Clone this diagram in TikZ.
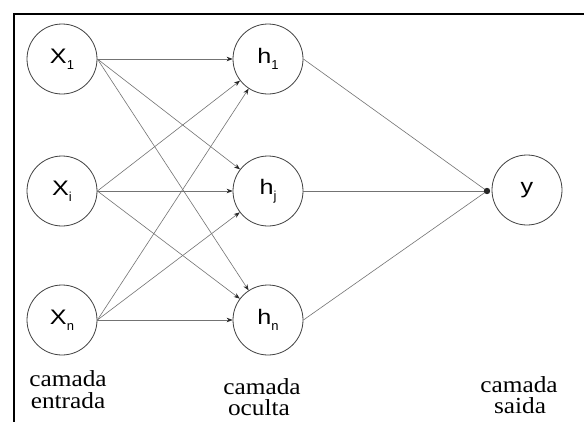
\documentclass[tikz,border=0pt]{standalone}
\usepackage{fontspec}
\setmainfont{Liberation Serif}
\newfontfamily\nodefont{Liberation Sans}
\usetikzlibrary{arrows.meta}
\newcommand{\lbl}[2]{\scalebox{1.2}[1]{#1}\raisebox{-0.28em}{\fontsize{13}{13}\selectfont #2}}
\begin{document}
\begin{tikzpicture}[x=1pt,y=-1pt,
  neuron/.style={circle,draw=black!75,line width=0.8pt,minimum size=70pt,inner sep=0pt,
    font=\nodefont\fontsize{21}{21}\selectfont},
  conn/.style={draw=black!55,line width=0.6pt,-{Stealth[length=6pt,width=4.5pt,black!85]}},
  outl/.style={draw=black!55,line width=0.6pt},
  layerlbl/.style={anchor=base,inner sep=0pt,font=\fontsize{23}{23}\selectfont}]
\useasboundingbox (0,0) rectangle (584,421);
\fill[white] (0,0) rectangle (584,421);
\draw[line width=2.6pt,line cap=rect] (584,14) -- (14,14) -- (14,421);
% input layer
\node[neuron] (x1) at (62,59) {\lbl{X}{1}};
\node[neuron] (xi) at (62,191) {\lbl{X}{i}};
\node[neuron] (xn) at (62,320) {\lbl{X}{n}};
% hidden layer
\node[neuron] (h1) at (268,59) {\lbl{h}{1}};
\node[neuron] (hj) at (268,191) {\lbl{h}{j}};
\node[neuron] (hn) at (268,320) {\lbl{h}{n}};
% output
\node[neuron] (y) at (527,190) {\scalebox{1.2}[1]{y}};
\coordinate (dot) at (487,191);
% connections input -> hidden
\foreach \s in {x1,xi,xn}{
  \foreach \t in {h1,hj,hn}{
    \draw[conn] (\s.east) -- (\t);
  }
}
% hidden -> output
\foreach \s in {h1,hj,hn}{
  \draw[outl] (\s.east) -- (dot);
}
\fill[black!85] (dot) circle (3.2pt);
% labels
\node[layerlbl] (l1a) at (68,386) {\scalebox{1.1}[1]{camada}};
\node[layerlbl] (l1b) at (68,408) {\scalebox{1.1}[1]{entrada}};
\node[layerlbl] (l2a) at (262,394) {\scalebox{1.1}[1]{camada}};
\node[layerlbl] (l2b) at (259,415) {\scalebox{1.1}[1]{oculta}};
\node[layerlbl] (l3a) at (519,392) {\scalebox{1.1}[1]{camada}};
\node[layerlbl] (l3b) at (520,413) {\scalebox{1.1}[1]{saida}};
\end{tikzpicture}
\end{document}
